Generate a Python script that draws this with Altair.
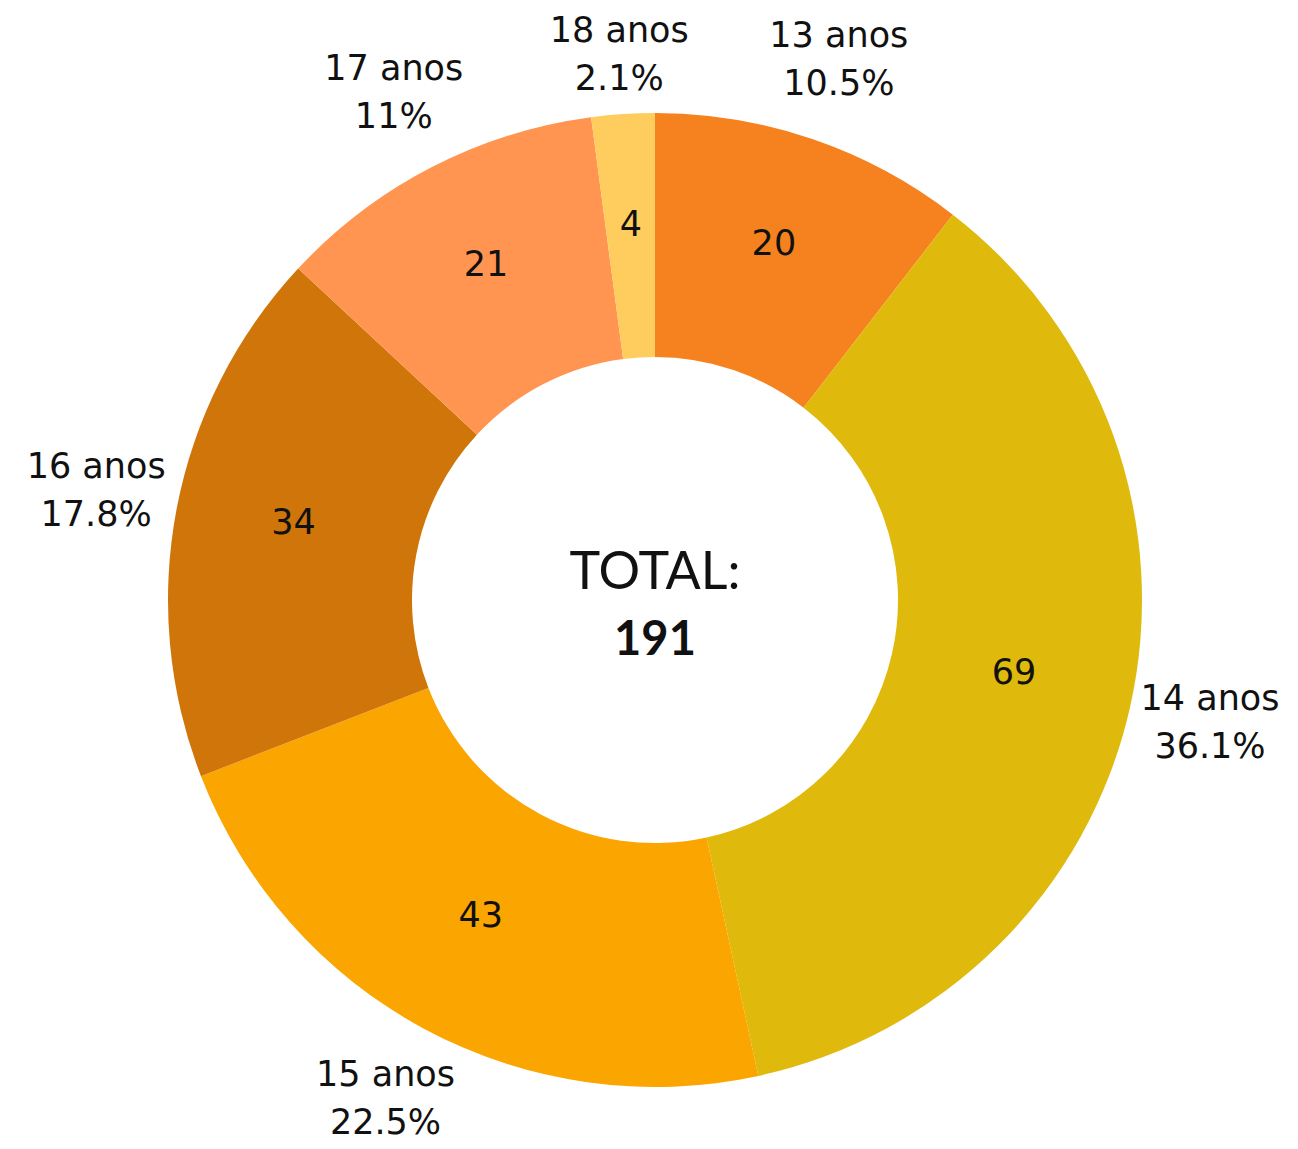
import altair as alt
import pandas as pd

categories = ["13 anos", "14 anos", "15 anos", "16 anos", "17 anos", "18 anos"]
values = [20, 69, 43, 34, 21, 4]
percents = ["10.5%", "36.1%", "22.5%", "17.8%", "11%", "2.1%"]
colors = ["#F5821F", "#DFB90B", "#FBA500", "#D0750A", "#FF9550", "#FFCD5E"]
total_label = "TOTAL:"
total_value = "191"

df = pd.DataFrame({
    "cat": categories,
    "val": values,
    "pct": percents,
    "order": list(range(len(categories))),
})

base = alt.Chart(df).encode(
    theta=alt.Theta("val:Q", stack=True),
    order=alt.Order("order:Q", sort="ascending"),
)

arcs = base.mark_arc(radius=487, radius2=243, stroke=None).encode(
    color=alt.Color("cat:N", scale=alt.Scale(domain=categories, range=colors), legend=None)
)

inner = base.mark_text(radius=368, dy=-8, fontSize=35, font="DejaVu Sans", color="#111111",
                       baseline="middle", align="center").encode(text="val:Q")

text_style = dict(fontSize=35, font="DejaVu Sans", color="#111111",
                  baseline="middle", align="center")


def outer_labels(radius, cond):
    name = base.mark_text(radius=radius, dy=-26, **text_style).encode(
        text="cat:N", opacity=alt.condition(cond, alt.value(1), alt.value(0)))
    pct = base.mark_text(radius=radius, dy=22, **text_style).encode(
        text="pct:N", opacity=alt.condition(cond, alt.value(1), alt.value(0)))
    return [name, pct]


main_cond = "datum.cat != '18 anos'"
small_cond = "datum.cat == '18 anos'"
outer_main = outer_labels(569, main_cond)
outer_small = outer_labels(544, small_cond)

center_df = pd.DataFrame({"t": [total_label], "v": [total_value]})
t1 = alt.Chart(center_df).mark_text(fontSize=52, font="Lato", color="#111111",
                                     baseline="middle", align="center", dy=-27).encode(text="t:N")
t2 = alt.Chart(center_df).mark_text(fontSize=47, font="Lato", fontWeight="bold", color="#111111",
                                     baseline="middle", align="center", dy=41).encode(text="v:N")

chart = alt.layer(arcs, inner, *outer_main, *outer_small, t1, t2).properties(
    width=1270, height=1082,
    padding={"left": 12, "top": 51, "right": 0, "bottom": 0},
    autosize=alt.AutoSizeParams(type="none"),
).configure_view(stroke=None)

chart.save("out.html", embed_options={"renderer": "svg", "actions": False})
